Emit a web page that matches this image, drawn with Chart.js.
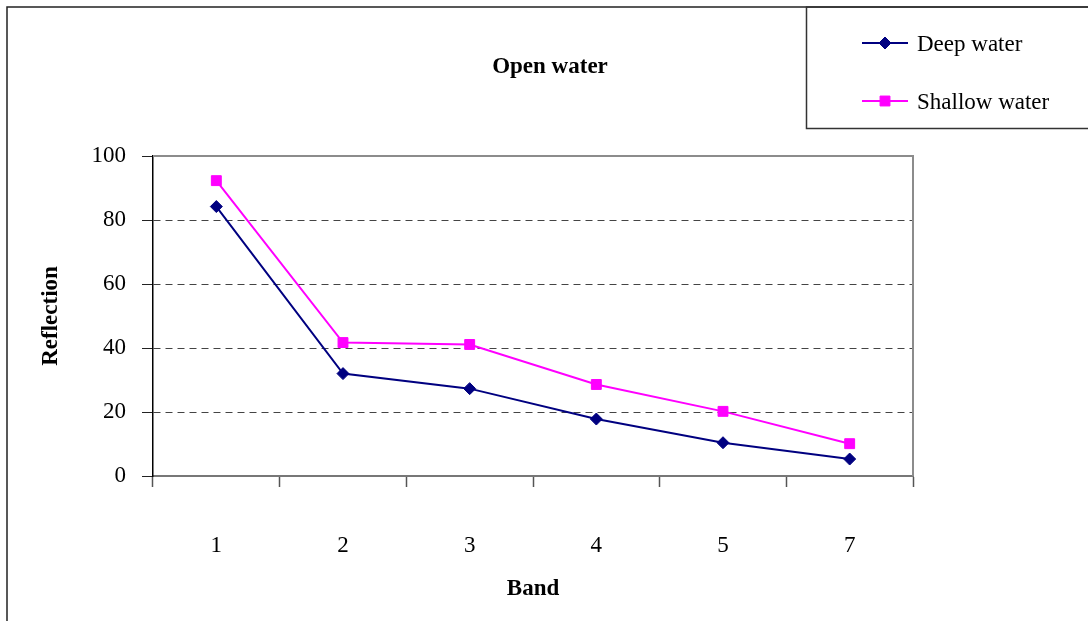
<!DOCTYPE html>
<html>
<head>
<meta charset="utf-8">
<script src="https://cdn.jsdelivr.net/npm/chart.js@4/dist/chart.umd.min.js"></script>
<style>
  html, body { margin: 0; padding: 0; background: #fff; overflow: hidden; }
  #wrap { width: 1088px; height: 621px; position: relative; }
</style>
</head>
<body>
<div id="wrap"><canvas id="c" width="1088" height="621"></canvas></div>
<script>
// Reflection per Landsat band for open water
const bands = ['1', '2', '3', '4', '5', '7'];
const deepWater = [84.2, 32.0, 27.3, 17.8, 10.4, 5.3];
const shallowWater = [92.3, 41.7, 41.1, 28.6, 20.2, 10.1];
const yMin = 0, yMax = 100, yStep = 20;

const chartTitle = 'Open water';
const xTitle = 'Band';
const yTitle = 'Reflection';
const serif = "'Liberation Serif', 'Times New Roman', serif";

// Frame, plot border, title and boxed legend
const decor = {
  id: 'decor',
  beforeDatasetsDraw(chart) {
    const { ctx, chartArea: a } = chart;
    ctx.save();
    ctx.strokeStyle = '#8c8c8c';
    ctx.lineWidth = 2;
    ctx.beginPath();
    ctx.moveTo(a.left, a.top);
    ctx.lineTo(a.right, a.top);
    ctx.lineTo(a.right, a.bottom);
    ctx.stroke();
    ctx.restore();
  },
  afterDraw(chart) {
    const { ctx } = chart;
    ctx.save();
    // outer frame
    ctx.strokeStyle = '#222';
    ctx.lineWidth = 1.5;
    ctx.strokeRect(7, 7, 1100, 640);
    // legend box
    ctx.strokeStyle = '#333';
    ctx.strokeRect(806.5, 7, 300, 121.5);

    // title
    ctx.fillStyle = '#000';
    ctx.font = 'bold 23px ' + serif;
    ctx.textAlign = 'center';
    ctx.textBaseline = 'alphabetic';
    ctx.fillText(chartTitle, 550, 73);

    // legend entries
    const rows = [43, 101];
    chart.data.datasets.forEach((ds, i) => {
      const y = rows[i];
      ctx.strokeStyle = ds.borderColor;
      ctx.lineWidth = ds.borderWidth;
      ctx.beginPath();
      ctx.moveTo(862, y);
      ctx.lineTo(908, y);
      ctx.stroke();
      ctx.fillStyle = ds.pointBackgroundColor;
      ctx.strokeStyle = ds.pointBorderColor;
      ctx.lineWidth = 1;
      Chart.helpers.drawPoint(ctx, { pointStyle: ds.pointStyle, radius: ds.pointRadius, borderWidth: 1, rotation: 0 }, 885, y);
      ctx.fillStyle = '#000';
      ctx.font = '23px ' + serif;
      ctx.textAlign = 'left';
      ctx.textBaseline = 'middle';
      ctx.fillText(ds.label, 917, y + 2);
    });
    ctx.restore();
  }
};

new Chart(document.getElementById('c'), {
  type: 'line',
  data: {
    labels: bands,
    datasets: [
      {
        label: 'Deep water',
        data: deepWater,
        borderColor: '#000080',
        backgroundColor: '#000080',
        pointBackgroundColor: '#000080',
        pointBorderColor: '#000080',
        borderWidth: 2,
        pointStyle: 'rectRot',
        pointRadius: 6,
        pointHoverRadius: 6,
        pointBorderWidth: 1,
        tension: 0,
        fill: false
      },
      {
        label: 'Shallow water',
        data: shallowWater,
        borderColor: '#ff00ff',
        backgroundColor: '#ff00ff',
        pointBackgroundColor: '#ff00ff',
        pointBorderColor: '#ff00ff',
        borderWidth: 2,
        pointStyle: 'rect',
        pointRadius: 7,
        pointHoverRadius: 7,
        pointBorderWidth: 1,
        tension: 0,
        fill: false
      }
    ]
  },
  options: {
    responsive: false,
    animation: false,
    devicePixelRatio: 1,
    events: [],
    layout: { padding: { top: 156, right: 175, left: 0, bottom: 0 } },
    plugins: {
      legend: { display: false },
      title: { display: false },
      tooltip: { enabled: false }
    },
    scales: {
      x: {
        type: 'category',
        offset: true,
        afterFit(s) { s.height = 145; },
        grid: {
          offset: true,
          drawOnChartArea: false,
          drawTicks: true,
          tickLength: 11,
          color: '#555',
          tickColor: '#555',
          tickWidth: 1.5
        },
        border: { display: true, color: '#777', width: 2 },
        ticks: {
          color: '#000',
          padding: 45,
          font: { family: serif, size: 23 },
          maxRotation: 0
        },
        title: {
          display: true,
          text: xTitle,
          color: '#000',
          font: { family: serif, size: 23, weight: 'bold' },
          padding: { top: 0, bottom: 18 }
        }
      },
      y: {
        min: yMin,
        max: yMax,
        afterFit(s) { s.width = 153; },
        grid: {
          drawTicks: true,
          tickLength: 11,
          color: (c) => (c.tick && (c.tick.value === yMin || c.tick.value === yMax)) ? 'rgba(0,0,0,0)' : '#444',
          tickColor: '#222',
          tickBorderDash: [],
          lineWidth: 1
        },
        border: { display: true, color: '#000', width: 1.5, dash: [7, 5] },
        ticks: {
          stepSize: yStep,
          color: '#000',
          padding: 16,
          font: { family: serif, size: 23 }
        },
        title: {
          display: true,
          text: yTitle,
          color: '#000',
          font: { family: serif, size: 23, weight: 'bold' },
          padding: { top: 37, bottom: 0 }
        }
      }
    }
  },
  plugins: [decor]
});
</script>
</body>
</html>
